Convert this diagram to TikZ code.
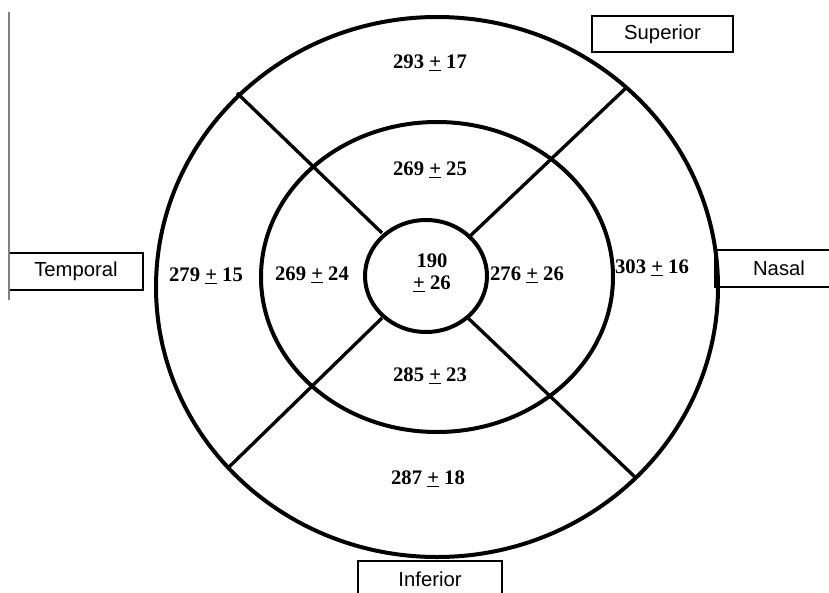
\documentclass[tikz,border=0pt]{standalone}
\usepackage{fontspec}
\setmainfont{Liberation Serif}
\newfontfamily\arialfont{Liberation Sans}
\usetikzlibrary{positioning}
\newcommand\plusul{\underline{+}}

\begin{document}
\begin{tikzpicture}[x=0.75pt, y=-0.75pt,
  ring/.style={line width=3pt},
  spoke/.style={line width=2.5pt},
  val/.style={font=\fontsize{15.5}{17}\selectfont\bfseries, inner sep=0pt, align=center},
  side/.style={draw, line width=1.3pt, align=center, inner sep=0pt, minimum height=27.5pt, font=\fontsize{15.2}{17}\selectfont\arialfont}]
\useasboundingbox (0,0) rectangle (829,593);
% side labels
\node[side, minimum width=105.75pt] (sup) at (662.5,34) {Superior};
\node[side, minimum width=96pt] (nas) at (779,268.5) {Nasal};
\node[side, minimum width=100.5pt] (tem) at (76,271.5) {Temporal};
\node[side, minimum width=108pt] (inf) at (430,579.5) {Inferior};
\coordinate (rulertop) at (9,12);
\coordinate (rulerbot) at (9,300);
\draw[gray, line width=0.8pt] (rulertop) -- (rulerbot);
% rings
\draw[ring] (437,287) ellipse [x radius=210.75pt, y radius=202.5pt];
\draw[ring] (437,277) ellipse [x radius=132pt, y radius=116.25pt];
\draw[ring] (426,276) ellipse [x radius=45.75pt, y radius=42pt];
% spokes
\coordinate (ulout) at (237,93);  \coordinate (ulin) at (382,233);
\coordinate (urout) at (627,87);  \coordinate (urin) at (468,238);
\coordinate (llout) at (228,468); \coordinate (llin) at (382,318);
\coordinate (lrout) at (636,478); \coordinate (lrin) at (468,318);
\foreach \a/\b in {ulout/ulin,urout/urin,llout/llin,lrout/lrin}{\draw[spoke] (\a) -- (\b);}
% thickness values
\node[val] (osup) at (430,63) {293 \plusul{} 17};
\node[val] (isup) at (430,170) {269 \plusul{} 25};
\node[val] (otem) at (206,276) {279 \plusul{} 15};
\node[val] (item) at (312,275) {269 \plusul{} 24};
\node[val] (cen) at (432,273) {190\\\plusul{} 26};
\node[val] (inas) at (527,275) {276 \plusul{} 26};
\node[val] (onas) at (652,268) {303 \plusul{} 16};
\node[val] (iinf) at (430,376) {285 \plusul{} 23};
\node[val] (oinf) at (428,479) {287 \plusul{} 18};
\end{tikzpicture}
\end{document}
